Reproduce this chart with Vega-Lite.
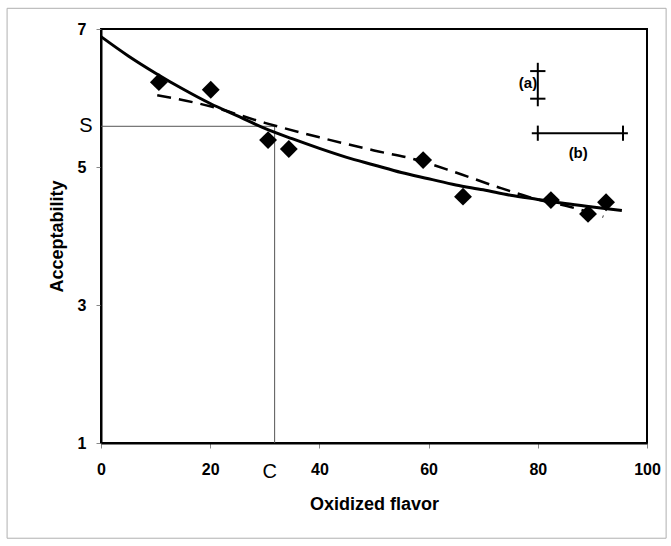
{
  "$schema": "https://vega.github.io/schema/vega-lite/v6.json",
  "width": 546,
  "height": 414,
  "autosize": {"type": "none"},
  "padding": {"left": 101, "top": 29, "right": 24, "bottom": 103},
  "background": "white",
  "config": {
    "font": "Liberation Sans",
    "view": {"stroke": "#000", "strokeWidth": 2},
    "axis": {"grid": false, "domainColor": "#000", "domainWidth": 2, "tickColor": "#888", "tickSize": 5, "labelColor": "#000", "titleColor": "#000", "labelFont": "Liberation Sans", "titleFont": "Liberation Sans"}
  },
  "datasets": {
    "points": [
      {"flavor": 10.6, "accept": 6.23}, {"flavor": 20.1, "accept": 6.12}, {"flavor": 30.6, "accept": 5.39},
      {"flavor": 34.4, "accept": 5.26}, {"flavor": 59.0, "accept": 5.10}, {"flavor": 66.3, "accept": 4.57},
      {"flavor": 82.4, "accept": 4.52}, {"flavor": 89.2, "accept": 4.32}, {"flavor": 92.5, "accept": 4.49}
    ],
    "solid": [
      {"flavor": 0, "accept": 6.89}, {"flavor": 5, "accept": 6.61}, {"flavor": 10, "accept": 6.36},
      {"flavor": 15, "accept": 6.13}, {"flavor": 20, "accept": 5.92}, {"flavor": 25, "accept": 5.74},
      {"flavor": 30, "accept": 5.56}, {"flavor": 35, "accept": 5.41}, {"flavor": 40, "accept": 5.27},
      {"flavor": 45, "accept": 5.14}, {"flavor": 50, "accept": 5.03}, {"flavor": 55, "accept": 4.92},
      {"flavor": 60, "accept": 4.83}, {"flavor": 65, "accept": 4.74}, {"flavor": 70, "accept": 4.67},
      {"flavor": 75, "accept": 4.59}, {"flavor": 80, "accept": 4.53}, {"flavor": 85, "accept": 4.47},
      {"flavor": 90, "accept": 4.42}, {"flavor": 95.4, "accept": 4.37}
    ],
    "dashed": [
      {"flavor": 10.3, "accept": 6.04}, {"flavor": 20, "accept": 5.88}, {"flavor": 30, "accept": 5.64},
      {"flavor": 40, "accept": 5.43}, {"flavor": 50, "accept": 5.24}, {"flavor": 58, "accept": 5.10},
      {"flavor": 65, "accept": 4.92}, {"flavor": 73, "accept": 4.70}, {"flavor": 80, "accept": 4.53},
      {"flavor": 86, "accept": 4.42}, {"flavor": 92, "accept": 4.28}
    ],
    "refs": [
      {"x": 0, "x2": 31.8, "y": 5.59, "y2": 5.59},
      {"x": 31.8, "x2": 31.8, "y": 1, "y2": 5.59}
    ],
    "bars": [
      {"x": 80, "x2": 80, "y": 5.88, "y2": 6.51},
      {"x": 78.6, "x2": 81.4, "y": 6.39, "y2": 6.39},
      {"x": 78.6, "x2": 81.4, "y": 5.99, "y2": 5.99},
      {"x": 78.9, "x2": 96.5, "y": 5.49, "y2": 5.49},
      {"x": 80.0, "x2": 80.0, "y": 5.38, "y2": 5.60},
      {"x": 95.6, "x2": 95.6, "y": 5.38, "y2": 5.60}
    ],
    "labels": [
      {"x": 78.2, "y": 6.22, "text": "(a)", "align": "right"},
      {"x": 87.4, "y": 5.2, "text": "(b)", "align": "center"}
    ],
    "letters": [
      {"x": -2.75, "y": 5.59, "text": "S"},
      {"x": 30.9, "y": 0.58, "text": "C"}
    ],
    "frame": [
      {"x": -17.2, "x2": 103.5, "y": 7.3, "y2": -0.38}
    ]
  },
  "layer": [
    {
      "data": {"name": "frame"},
      "mark": {"type": "rect", "fill": null, "stroke": "#b0b0b0", "strokeWidth": 1, "clip": false},
      "encoding": {
        "x": {"field": "x", "type": "quantitative",
          "scale": {"domain": [0, 100], "nice": false, "zero": false},
          "axis": {
            "title": "Oxidized flavor", "titleFontSize": 18, "titleFontWeight": "bold", "titlePadding": 18,
            "values": [0, 20, 40, 60, 80, 100], "format": "d",
            "labelFontSize": 16, "labelFontWeight": "bold",
            "labelPadding": 13, "labelFlush": false, "labelOverlap": false
          }},
        "x2": {"field": "x2"},
        "y": {"field": "y", "type": "quantitative",
          "scale": {"domain": [1, 7], "nice": false, "zero": false},
          "axis": {
            "title": "Acceptability", "titleFontSize": 18, "titleFontWeight": "bold", "titlePadding": 11,
            "values": [1, 3, 5, 7], "format": "d",
            "labelFontSize": 16, "labelFontWeight": "bold",
            "labelPadding": 10, "labelOverlap": false
          }},
        "y2": {"field": "y2"}
      }
    },
    {
      "data": {"name": "refs"},
      "mark": {"type": "rule", "color": "#555", "strokeWidth": 1},
      "encoding": {
        "x": {"field": "x", "type": "quantitative"},
        "x2": {"field": "x2"},
        "y": {"field": "y", "type": "quantitative"},
        "y2": {"field": "y2"}
      }
    },
    {
      "data": {"name": "dashed"},
      "mark": {"type": "line", "color": "#000", "strokeWidth": 2.5, "strokeDash": [14, 8], "interpolate": "monotone"},
      "encoding": {
        "x": {"field": "flavor", "type": "quantitative"},
        "y": {"field": "accept", "type": "quantitative"}
      }
    },
    {
      "data": {"name": "solid"},
      "mark": {"type": "line", "color": "#000", "strokeWidth": 3, "interpolate": "monotone"},
      "encoding": {
        "x": {"field": "flavor", "type": "quantitative"},
        "y": {"field": "accept", "type": "quantitative"}
      }
    },
    {
      "data": {"name": "points"},
      "mark": {"type": "point", "shape": "diamond", "filled": true, "color": "#000", "size": 320, "opacity": 1},
      "encoding": {
        "x": {"field": "flavor", "type": "quantitative"},
        "y": {"field": "accept", "type": "quantitative"}
      }
    },
    {
      "data": {"name": "bars"},
      "mark": {"type": "rule", "color": "#000", "strokeWidth": 2},
      "encoding": {
        "x": {"field": "x", "type": "quantitative"},
        "x2": {"field": "x2"},
        "y": {"field": "y", "type": "quantitative"},
        "y2": {"field": "y2"}
      }
    },
    {
      "data": {"name": "labels"},
      "mark": {"type": "text", "fontSize": 15, "fontWeight": "bold", "color": "#000", "baseline": "middle"},
      "encoding": {
        "x": {"field": "x", "type": "quantitative"},
        "y": {"field": "y", "type": "quantitative"},
        "text": {"field": "text"},
        "align": {"field": "align", "type": "nominal", "scale": null}
      }
    },
    {
      "data": {"name": "letters"},
      "mark": {"type": "text", "fontSize": 20, "color": "#000", "baseline": "middle", "align": "center", "clip": false},
      "encoding": {
        "x": {"field": "x", "type": "quantitative"},
        "y": {"field": "y", "type": "quantitative"},
        "text": {"field": "text"}
      }
    }
  ]
}
